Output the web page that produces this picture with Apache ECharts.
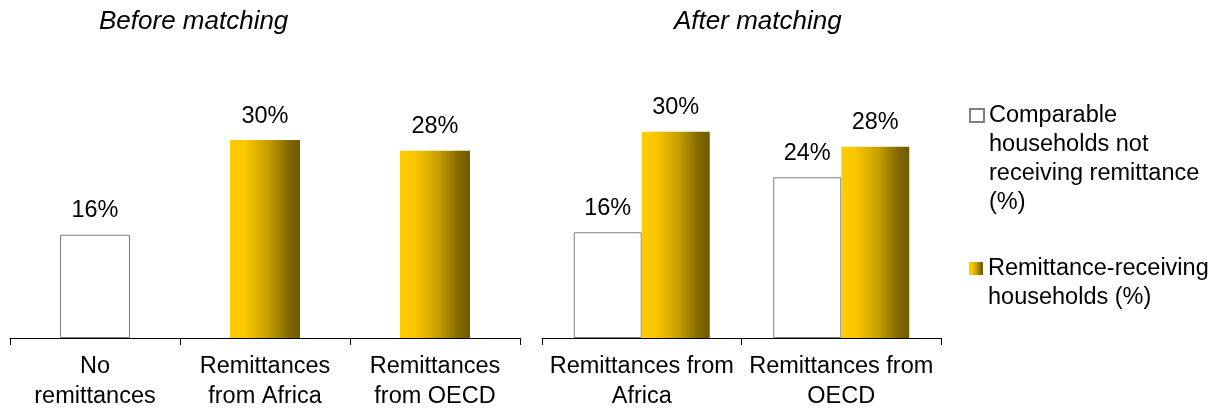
<!DOCTYPE html>
<html>
<head>
<meta charset="utf-8">
<script src="https://cdn.jsdelivr.net/npm/echarts@6/dist/echarts.min.js"></script>
<style>html,body{margin:0;padding:0;background:#fff}#c{width:1227px;height:411px}</style>
</head>
<body>
<div id="c"></div>
<script>
// ---- data ----
const panelTitles = ['Before matching', 'After matching'];
const seriesNames = ['Comparable households not receiving remittance (%)', 'Remittance-receiving households (%)'];
const legendTexts = ['Comparable\nhouseholds not\nreceiving remittance\n(%)', 'Remittance-receiving\nhouseholds (%)'];
const beforeCategories = ['No\nremittances', 'Remittances\nfrom Africa', 'Remittances\nfrom OECD'];
const afterCategories = ['Remittances from\nAfrica', 'Remittances from\nOECD'];
const beforeNotReceiving = [15.6, null, null];
const beforeReceiving = [null, 29.9, 28.3];
const afterNotReceiving = [15.6, 23.7];
const afterReceiving = [30.4, 28.2];

const FONT = "'Liberation Sans', Arial, sans-serif";
const FS = 23.5;
const gold = new echarts.graphic.LinearGradient(0, 0, 1, 0, [
  { offset: 0, color: '#FFCC00' },
  { offset: 0.22, color: '#F9C600' },
  { offset: 0.55, color: '#C49E00' },
  { offset: 0.85, color: '#806700' },
  { offset: 1, color: '#6E5A00' }
]);
const whiteStyle = { color: '#ffffff', borderColor: '#7f7f7f', borderWidth: 1 };
const goldStyle = { color: gold };
const label = {
  show: true, position: 'top', distance: 12,
  fontFamily: FONT, fontSize: FS, color: '#000',
  formatter: p => Math.round(p.value) + '%'
};
const xAxisCommon = {
  type: 'category',
  axisLine: { show: true, lineStyle: { color: '#000', width: 1 } },
  axisTick: { show: true, length: 7, alignWithLabel: false, interval: 0, lineStyle: { color: '#000', width: 1 } },
  axisLabel: { interval: 0, fontFamily: FONT, fontSize: FS, color: '#000', lineHeight: 30, margin: 14 }
};
const yAxisCommon = {
  type: 'value', min: 0, show: false, splitLine: { show: false }
};
// blank leading lines keep the legend icon level with the first text line
const padLines = t => '\n'.repeat(t.split('\n').length - 1) + t;

const option = {
  animation: false,
  backgroundColor: '#fff',
  title: [
    { text: panelTitles[0], left: 99, top: 9, padding: 0,
      textStyle: { fontFamily: FONT, fontSize: 26, fontStyle: 'italic', fontWeight: 'normal', color: '#000' } },
    { text: panelTitles[1], left: 674, top: 9, padding: 0,
      textStyle: { fontFamily: FONT, fontSize: 26, fontStyle: 'italic', fontWeight: 'normal', color: '#000' } }
  ],
  legend: [
    { data: [seriesNames[0]], left: 969, top: 14, padding: 0, itemWidth: 14, itemHeight: 13,
      icon: 'rect', selectedMode: false,
      formatter: () => padLines(legendTexts[0]),
      textStyle: { fontFamily: FONT, fontSize: FS, color: '#000', lineHeight: 29 } },
    { data: [seriesNames[1]], left: 969, top: 225, padding: 0, itemWidth: 14, itemHeight: 13,
      icon: 'rect', selectedMode: false,
      formatter: () => padLines(legendTexts[1]),
      textStyle: { fontFamily: FONT, fontSize: FS, color: '#000', lineHeight: 29 } }
  ],
  grid: [
    { left: 10, width: 510, top: 60, bottom: 73, containLabel: false, outerBoundsMode: 'none' },
    { left: 542, width: 399, top: 60, bottom: 73, containLabel: false, outerBoundsMode: 'none' }
  ],
  xAxis: [
    Object.assign({}, xAxisCommon, { gridIndex: 0, data: beforeCategories }),
    Object.assign({}, xAxisCommon, { gridIndex: 1, data: afterCategories })
  ],
  yAxis: [
    Object.assign({}, yAxisCommon, { gridIndex: 0, max: 42 }),
    Object.assign({}, yAxisCommon, { gridIndex: 1, max: 41 })
  ],
  series: [
    { name: seriesNames[0], type: 'bar', xAxisIndex: 0, yAxisIndex: 0, data: beforeNotReceiving,
      barWidth: 70, barGap: '-100%', itemStyle: whiteStyle, label: label },
    { name: seriesNames[1], type: 'bar', xAxisIndex: 0, yAxisIndex: 0, data: beforeReceiving,
      barWidth: 70, barGap: '-100%', itemStyle: goldStyle, label: label },
    { name: seriesNames[0], type: 'bar', xAxisIndex: 1, yAxisIndex: 1, data: afterNotReceiving,
      barWidth: 68, barGap: '0%', itemStyle: whiteStyle, label: label },
    { name: seriesNames[1], type: 'bar', xAxisIndex: 1, yAxisIndex: 1, data: afterReceiving,
      barWidth: 68, barGap: '0%', itemStyle: goldStyle, label: label }
  ]
};
const chart = echarts.init(document.getElementById('c'), null, { renderer: 'canvas' });
chart.setOption(option);
</script>
</body>
</html>
